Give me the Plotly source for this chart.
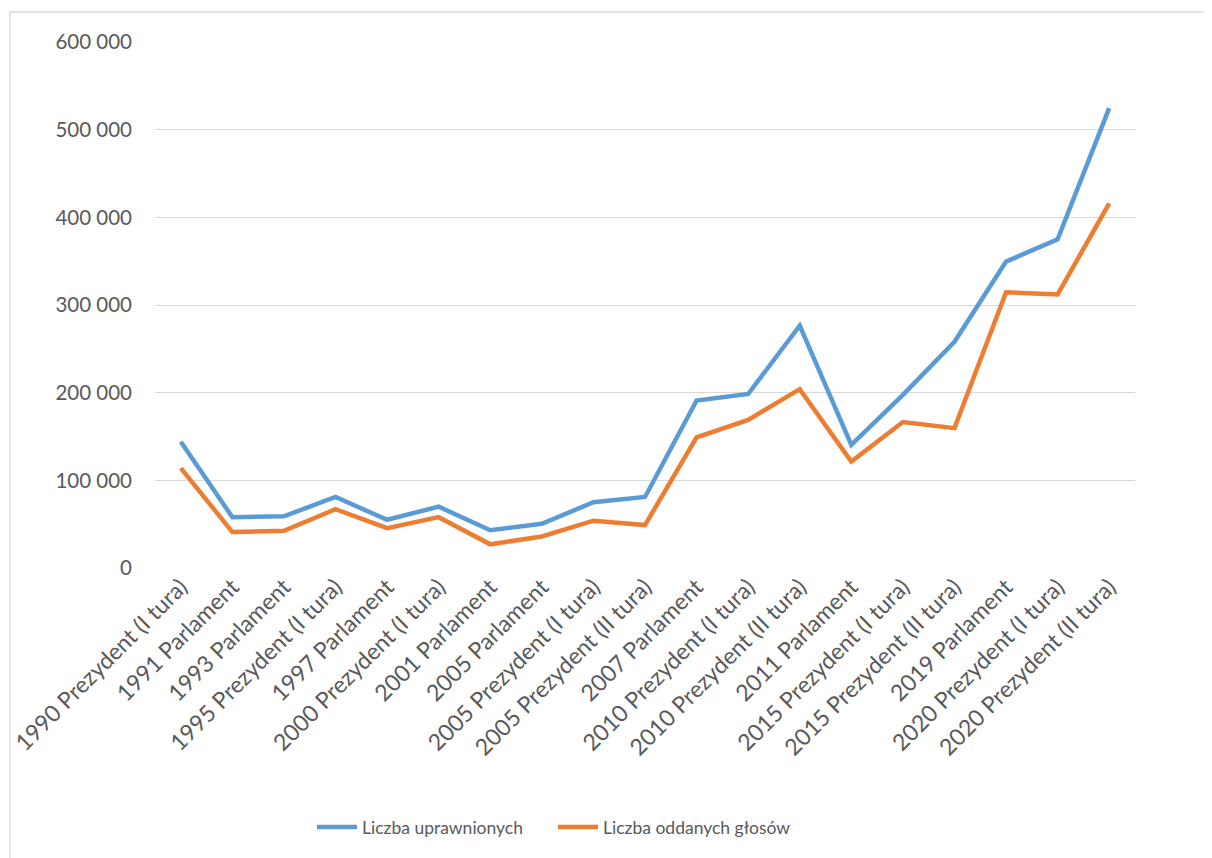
import plotly.graph_objects as go

categories = [
    "1990 Prezydent (I tura)", "1991 Parlament", "1993 Parlament",
    "1995 Prezydent (I tura)", "1997 Parlament", "2000 Prezydent (I tura)",
    "2001 Parlament", "2005 Parlament", "2005 Prezydent (I tura)",
    "2005 Prezydent (II tura)", "2007 Parlament", "2010 Prezydent (I tura)",
    "2010 Prezydent (II tura)", "2011 Parlament", "2015 Prezydent (I tura)",
    "2015 Prezydent (II tura)", "2019 Parlament", "2020 Prezydent (I tura)",
    "2020 Prezydent (II tura)",
]
uprawnionych = [144000, 58000, 59000, 81000, 55000, 70000, 43000, 50500, 75000,
                81000, 191000, 198500, 276500, 140500, 197500, 258000, 349500,
                375000, 524500]
oddanych = [114000, 41000, 42500, 67000, 45500, 58000, 27000, 36000, 54000,
            49000, 149000, 169000, 204000, 121500, 166500, 159500, 314500,
            312000, 416000]
y_ticks = [0, 100000, 200000, 300000, 400000, 500000, 600000]
y_tick_labels = ["0", "100 000", "200 000", "300 000", "400 000", "500 000", "600 000"]

FONT = "Lato"
OFF = 8  # page body margin
W, H = 1212 - OFF, 858 - OFF
# screen-space plot area: x 155..1135, y 42..568
L, R, T, B = 155 - OFF, W - (1135 - OFF), 42 - OFF, H - (568 - OFF)
pw, ph = W - L - R, H - T - B

def px_x(x):
    return (x - OFF - L) / pw

def px_y(y):
    return (H - B - (y - OFF)) / ph

fig = go.Figure()
fig.add_trace(go.Scatter(x=categories, y=uprawnionych, mode="lines",
                         name="Liczba uprawnionych",
                         line=dict(color="#5b9bd5", width=4.5)))
fig.add_trace(go.Scatter(x=categories, y=oddanych, mode="lines",
                         name="Liczba oddanych głosów",
                         line=dict(color="#ed7d31", width=4.5)))

fig.update_layout(
    width=W, height=H,
    margin=dict(l=L, r=R, t=T, b=B, autoexpand=False),
    paper_bgcolor="white", plot_bgcolor="white",
    font=dict(family=FONT, size=20, color="#595959"),
    showlegend=True,
    legend=dict(orientation="h", x=px_x(312), xanchor="left",
                y=px_y(827), yanchor="middle",
                font=dict(family=FONT, size=17.5, color="#595959"),
                itemwidth=40, entrywidth=186, tracegroupgap=0),
    xaxis=dict(type="category", range=[-0.5, len(categories) - 0.5],
               tickangle=-45, showgrid=False, showline=False, ticks="",
               tickfont=dict(family=FONT, size=23, color="#595959"),
               automargin=False),
    yaxis=dict(range=[0, 600000], tickvals=y_ticks, ticktext=y_tick_labels,
               showgrid=True, gridcolor="#d9d9d9", gridwidth=1.3,
               zeroline=False, showline=False, ticks="",
               ticklabelstandoff=22,
               tickfont=dict(family=FONT, size=20.5, color="#595959"),
               automargin=False),
    shapes=[
        dict(type="line", xref="paper", yref="paper",
             x0=px_x(10), x1=px_x(1212), y0=px_y(12), y1=px_y(12),
             line=dict(color="#d9d9d9", width=1.3)),
        dict(type="line", xref="paper", yref="paper",
             x0=px_x(10), x1=px_x(10), y0=px_y(12), y1=px_y(858),
             line=dict(color="#d9d9d9", width=1.3)),
    ],
)

fig.write_html("out.html")
